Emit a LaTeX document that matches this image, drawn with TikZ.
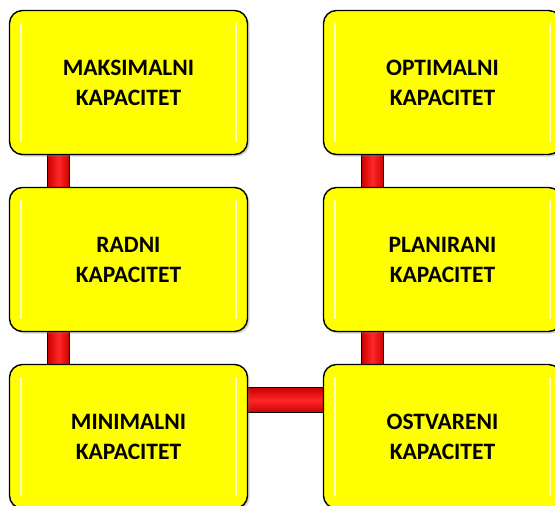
\documentclass[tikz,border=0pt]{standalone}
\usepackage{fontspec}
\setmainfont{Carlito}
\usetikzlibrary{shadows,calc}
\pgfdeclarelayer{background}
\pgfsetlayers{background,main}
\definecolor{boxyellow}{RGB}{255,255,0}
\definecolor{barred}{RGB}{255,0,0}
\tikzset{
  capbox/.style={draw=black, line width=1.4pt, fill=boxyellow, rounded corners=13pt,
    minimum width=238pt, minimum height=144pt, inner sep=0pt, align=center,
    font=\fontsize{23.5}{30}\selectfont\bfseries,
    drop shadow={opacity=0.35, shadow xshift=2pt, shadow yshift=-2pt}},
  vbar/.style={draw=black, line width=1.3pt, left color=barred!80!black, right color=barred!80!black, middle color=barred!85!white},
  hbar/.style={draw=black, line width=1.3pt, top color=barred!80!black, bottom color=barred!80!black, middle color=barred!85!white},
  gloss/.style={white, line width=1.6pt, opacity=0.75, line cap=round}
}
\begin{document}
\begin{tikzpicture}[x=1pt,y=-1pt]
\useasboundingbox (0,0) rectangle (555,506);
\node[capbox] (tl) at (128.5,82.5) {MAKSIMALNI\\KAPACITET};
\node[capbox] (ml) at (128.5,259.5) {RADNI\\KAPACITET};
\node[capbox] (bl) at (128.5,436.5) {MINIMALNI\\KAPACITET};
\node[capbox] (tr) at (442.5,82.5) {OPTIMALNI\\KAPACITET};
\node[capbox] (mr) at (442.5,259.5) {PLANIRANI\\KAPACITET};
\node[capbox] (br) at (442.5,436.5) {OSTVARENI\\KAPACITET};
\foreach \n in {tl,ml,bl,tr,mr,br}{
  \draw[gloss] ($(\n.north west)+(12,14)$) -- ($(\n.south west)+(12,-14)$);
  \draw[gloss] ($(\n.north east)+(-12,14)$) -- ($(\n.south east)+(-12,-14)$);
}
\begin{pgfonlayer}{background}
\path[vbar] ($(tl.south west)+(38.5,-6)$) rectangle ($(ml.north west)+(61,6)$);
\path[vbar] ($(ml.south west)+(38.5,-6)$) rectangle ($(bl.north west)+(61,6)$);
\path[vbar] ($(tr.south west)+(38.5,-6)$) rectangle ($(mr.north west)+(61,6)$);
\path[vbar] ($(mr.south west)+(38.5,-6)$) rectangle ($(br.north west)+(61,6)$);
\path[hbar] ($(bl.north east)+(-6,24)$) rectangle ($(br.north west)+(6,49)$);
\end{pgfonlayer}
\end{tikzpicture}
\end{document}
